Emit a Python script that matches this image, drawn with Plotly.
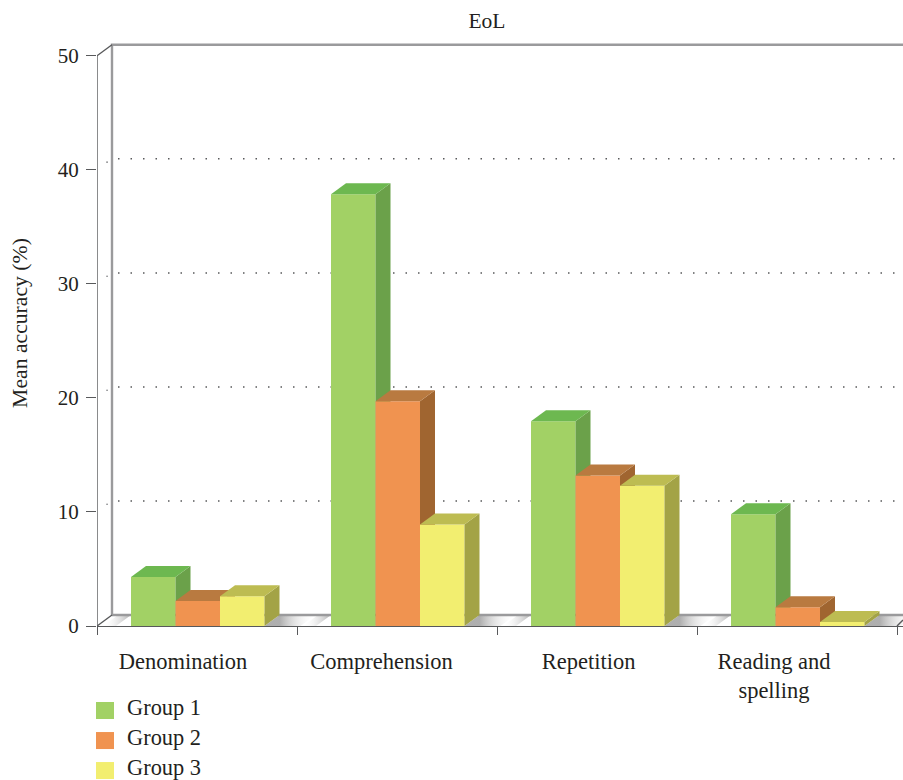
import plotly.graph_objects as go

# Mean accuracy per task and group
categories = ["Denomination", "Comprehension", "Repetition", "Reading and<br>spelling"]
label_positions = [0.43, 1.422, 2.458, 3.385]
group_names = ["Group 1", "Group 2", "Group 3"]
group_1 = [4.3, 37.87, 17.95, 9.8]
group_2 = [2.2, 19.7, 13.2, 1.65]
group_3 = [2.6, 8.9, 12.3, 0.35]
y_ticks = [0, 10, 20, 30, 40, 50]

FRONT = ["#A2D165", "#F09350", "#F2EE70"]
TOP = ["#6DB850", "#B97A40", "#BDBC52"]
SIDE = ["#6BA14A", "#A06530", "#A3A346"]
INK = "#231F20"
AXIS = "#58595B"
FONT = "Liberation Serif"

# Oblique projection of the depth axis, in axis units
DX, DY = 0.075, 0.965
BAR_W = 0.2225
GROUP_START = -0.33
X_MAX = 4.03
Y_MAX = 52
centers = [i + 0.5 for i in range(len(categories))]

# Plot rectangle in pixels
LEFT, BOTTOM, PLOT_W = 97, 626, 806
PLOT_H = Y_MAX * 11.4


def polygon(xs, ys, color, axes=("x", "y")):
    return go.Scatter(
        x=xs, y=ys, mode="lines", fill="toself", fillcolor=color,
        line=dict(width=0), xaxis=axes[0], yaxis=axes[1],
        cliponaxis=False, hoverinfo="skip", showlegend=False,
    )


def wall_line(xs, ys, color, width, dash="solid"):
    return go.Scatter(
        x=xs, y=ys, mode="lines", line=dict(color=color, width=width, dash=dash),
        cliponaxis=False, hoverinfo="skip", showlegend=False,
    )


def floor_shadow(x0, x1, stops):
    trace = polygon([x0, x1, x1 + DX, x0 + DX], [0, 0, DY, DY], "rgba(0,0,0,0)")
    trace.fillgradient = dict(type="horizontal", colorscale=stops)
    return trace


def paper_x(px):
    return (px - LEFT) / PLOT_W


def paper_y(py):
    return (BOTTOM - py) / PLOT_H


fig = go.Figure()

# Floor shading between the bar clusters
dark = "rgba(140,140,140,0.7)"
clear = "rgba(255,255,255,0)"
for c in range(len(categories) + 1):
    left = c - 1 + 0.5 + GROUP_START + 3 * BAR_W
    right = c + 0.5 + GROUP_START
    if c > 0:
        fig.add_trace(floor_shadow(left, left + 0.18, [[0, dark], [0.3, dark], [1, clear]]))
    if c < len(categories):
        fig.add_trace(floor_shadow(right - 0.14, right - DX, [[0, clear], [1, dark]]))

# Back wall and floor edges
wall = "#9A9A9C"
fig.add_trace(wall_line([DX, DX, X_MAX], [DY, 50 + DY, 50 + DY], wall, 2.4))
fig.add_trace(wall_line([DX, X_MAX], [DY, DY], wall, 2.4))
fig.add_trace(wall_line([0, 0], [0, 50], AXIS, 1.4))
fig.add_trace(wall_line([0, DX], [0, DY], AXIS, 1.4))
fig.add_trace(wall_line([0, DX], [50, 50 + DY], AXIS, 1.4))
fig.add_trace(wall_line([4, X_MAX], [0, DY * 0.55], AXIS, 1.4))

# Dotted gridlines on the back wall
for level in y_ticks[1:-1]:
    fig.add_trace(wall_line([DX + 0.03, 3.99], [level + DY, level + DY], "#58595B", 1.5, "1.5px,11px"))
    fig.add_trace(go.Scatter(
        x=[DX * 0.67], y=[level + DY * 0.7], mode="markers",
        marker=dict(size=1.6, color="#6D6E71"), cliponaxis=False,
        hoverinfo="skip", showlegend=False,
    ))

# One overlaid axis pair per group keeps later bars painted over earlier ones
series = [group_1, group_2, group_3]
for g, values in enumerate(series):
    axis_id = str(g + 2)
    axes = ("x" + axis_id, "y" + axis_id)
    offset = GROUP_START + g * BAR_W
    for center, value in zip(centers, values):
        x0 = center + offset
        x1 = x0 + BAR_W
        fig.add_trace(polygon(
            [x1, x1 + DX, x1 + DX, x1], [0, DY, value + DY, value], SIDE[g], axes))
        fig.add_trace(polygon(
            [x0, x1, x1 + DX, x0 + DX], [value, value, value + DY, value + DY], TOP[g], axes))
    fig.add_trace(go.Bar(
        x=centers, y=values, name=group_names[g], width=BAR_W, offset=offset,
        marker=dict(color=FRONT[g], line=dict(width=0)),
        xaxis=axes[0], yaxis=axes[1], showlegend=False,
        hovertemplate="%{y}%<extra>" + group_names[g] + "</extra>",
    ))

hidden_x = dict(range=[0, X_MAX], overlaying="x", visible=False, fixedrange=True)
hidden_y = dict(range=[0, Y_MAX], overlaying="y", visible=False, fixedrange=True)

# Colour key under the plot
key_shapes = []
key_labels = []
for g, name in enumerate(group_names):
    top = 702 + 30 * g
    key_shapes.append(dict(
        type="rect", xref="paper", yref="paper", line=dict(width=0),
        fillcolor=FRONT[g],
        x0=paper_x(96), x1=paper_x(114),
        y0=paper_y(top + 17), y1=paper_y(top),
    ))
    key_labels.append(dict(
        text=name, xref="paper", yref="paper", showarrow=False,
        x=paper_x(125), xanchor="left",
        y=paper_y(top + 5.5), yanchor="middle",
        font=dict(family=FONT, size=22.4, color=INK),
    ))

# Axis caption, set beside the tick labels
key_labels.append(dict(
    text="Mean accuracy (%)", xref="paper", yref="paper", showarrow=False,
    textangle=-90, x=paper_x(20), xanchor="center", y=paper_y(323), yanchor="middle",
    font=dict(family=FONT, size=21.7, color=INK),
))

fig.update_layout(
    width=903, height=780,
    margin=dict(l=LEFT, r=0, t=BOTTOM - PLOT_H, b=780 - BOTTOM, autoexpand=False),
    paper_bgcolor="white", plot_bgcolor="white",
    showlegend=False, barmode="overlay",
    font=dict(family=FONT, size=21, color=INK),
    title=dict(
        text="EoL", x=487 / 903, xanchor="center", y=1 - 20 / 780, yanchor="middle",
        font=dict(family=FONT, size=21.5, color=INK),
    ),
    xaxis=dict(
        range=[0, X_MAX], tickmode="array", tickvals=label_positions, ticktext=categories,
        ticks="", ticklabelstandoff=15, showgrid=False, zeroline=False,
        showline=True, linecolor=AXIS, linewidth=1.4, fixedrange=True,
        tickfont=dict(family=FONT, size=22.5, color=INK),
        minor=dict(
            tickmode="array", tickvals=[0, 1, 2, 3, 4], ticks="outside",
            ticklen=8, tickwidth=1.4, tickcolor=AXIS, showgrid=False,
        ),
    ),
    yaxis=dict(
        range=[0, Y_MAX], tickmode="array", tickvals=y_ticks,
        ticks="outside", ticklen=10, tickwidth=1.4, tickcolor=AXIS,
        ticklabelstandoff=3, showgrid=False, zeroline=False, showline=False,
        fixedrange=True, tickfont=dict(family=FONT, size=21, color=INK),
    ),
    xaxis2=hidden_x, yaxis2=hidden_y,
    xaxis3=hidden_x, yaxis3=hidden_y,
    xaxis4=hidden_x, yaxis4=hidden_y,
    shapes=key_shapes,
    annotations=key_labels,
)

fig.write_html("out.html", config=dict(displayModeBar=False))
